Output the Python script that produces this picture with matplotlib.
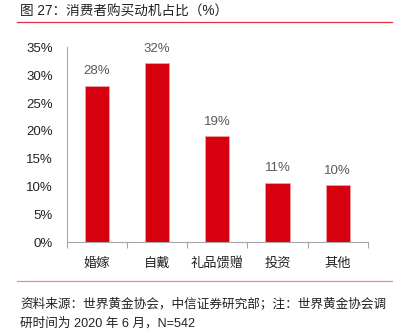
import matplotlib
matplotlib.use("Agg")
import matplotlib.pyplot as plt
from matplotlib.lines import Line2D
from matplotlib.ticker import FuncFormatter, FixedLocator

plt.rcParams['font.family'] = ['Liberation Sans', 'Noto Sans CJK SC', 'DejaVu Sans']

motives = ['婚嫁', '自戴', '礼品馈赠', '投资', '其他']
shares = [28.1, 32.1, 19.0, 10.6, 10.2]
yticks = [0, 5, 10, 15, 20, 25, 30, 35]

title = '图 27：消费者购买动机占比（%）'
source = ['资料来源：世界黄金协会，中信证券研究部；注：世界黄金协会调',
          '研时间为 2020 年 6 月，N=542']

bar_color = '#d7000f'
axis_gray = '#a6a6a6'
text_dark = '#222222'

fig = plt.figure(figsize=(3.99, 3.31), dpi=100)
ax = fig.add_axes([0.167, 0.268, 0.755, 0.589])

x = range(len(motives))
bars = ax.bar(x, shares, width=0.4, color=bar_color, edgecolor='#f2a0a6', linewidth=0.6)
for xi, v in zip(x, shares):
    ax.text(xi, v + 1.6, f'{v:.0f}%', ha='center', va='bottom', fontsize=9.5, color='#595959')

ax.set_xlim(-0.5, len(motives) - 0.5)
ax.set_ylim(0, 35)
ax.set_yticks(yticks)
ax.yaxis.set_major_formatter(FuncFormatter(lambda v, p: f'{v:.0f}%'))
ax.tick_params(axis='y', length=0, labelsize=9.5, labelcolor=text_dark, pad=10)

ax.set_xticks(list(x))
ax.set_xticklabels(motives, fontsize=9.5, color=text_dark)
ax.tick_params(axis='x', length=0, pad=11)
# category separators below the axis
ax.xaxis.set_minor_locator(FixedLocator([i - 0.5 for i in range(len(motives) + 1)]))
ax.tick_params(axis='x', which='minor', length=4, color=axis_gray, width=0.8, direction='out')

for s in ['top', 'right']:
    ax.spines[s].set_visible(False)
for s in ['left', 'bottom']:
    ax.spines[s].set_color(axis_gray)
    ax.spines[s].set_linewidth(0.8)

fig.text(0.05, 0.964, title, fontsize=9.8, color=text_dark, va='center', ha='left')
fig.add_artist(Line2D([0.043, 0.982], [0.934, 0.934], color='#e0303c', linewidth=0.9))
fig.add_artist(Line2D([0.043, 0.982], [0.151, 0.151], color='#f08a90', linewidth=0.9))
fig.text(0.05, 1 - 304 / 331, source[0], fontsize=9.1, color=text_dark, va='center', ha='left')
fig.text(0.05, 1 - 323 / 331, source[1], fontsize=9.1, color=text_dark, va='center', ha='left')

fig.savefig('out.png', dpi=100)
